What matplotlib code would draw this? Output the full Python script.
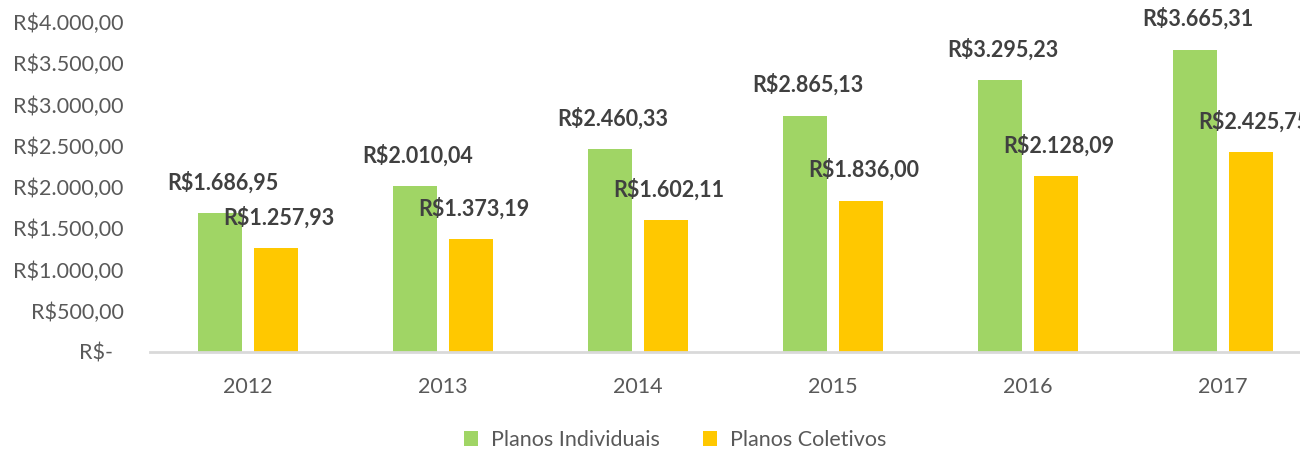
import matplotlib.pyplot as plt
import matplotlib.transforms as mtransforms
import numpy as np

plt.rcParams['font.family'] = ['Lato', 'DejaVu Sans']

anos = ['2012', '2013', '2014', '2015', '2016', '2017']
individuais = [1686.95, 2010.04, 2460.33, 2865.13, 3295.23, 3665.31]
coletivos = [1257.93, 1373.19, 1602.11, 1836.00, 2128.09, 2425.75]
yticks = [0, 500, 1000, 1500, 2000, 2500, 3000, 3500, 4000]


def brl(v):
    s = f'{v:,.2f}'
    s = s.replace(',', 'X').replace('.', ',').replace('X', '.')
    return 'R$' + s


fig = plt.figure(figsize=(13, 4.55), dpi=100)
ax = fig.add_axes([150 / 1300, 103 / 455, 1170 / 1300, 330 / 455])

x = np.arange(len(anos))
w = 0.225
b1 = ax.bar(x - 0.14, individuais, w, color='#A0D565', label='Planos Individuais')
b2 = ax.bar(x + 0.145, coletivos, w, color='#FFC800', label='Planos Coletivos')

for bars, vals in ((b1, individuais), (b2, coletivos)):
    for r, v in zip(bars, vals):
        ax.annotate(brl(v), (r.get_x() + r.get_width() / 2, v),
                    xytext=(2, 14), textcoords='offset points',
                    ha='center', va='bottom', fontsize=15.5, fontweight='bold',
                    color='#404040', annotation_clip=False)

ax.set_xlim(-0.5, len(anos) - 0.5)
ax.set_ylim(0, 4000)
ax.set_yticks(yticks)
ax.set_yticklabels([brl(t) if t else 'R$-' for t in yticks])
ax.set_xticks(x)
ax.set_xticklabels(anos)
ax.tick_params(axis='both', length=0, labelsize=15.5, colors='#595959')
ax.tick_params(axis='y', pad=19)
ax.tick_params(axis='x', pad=18)

# "R$-" sits a bit further left, like the accounting format
zero_lbl = ax.get_yticklabels()[0]
zero_lbl.set_transform(zero_lbl.get_transform() +
                       mtransforms.ScaledTranslation(-0.11, 0, fig.dpi_scale_trans))

for s in ['top', 'right', 'left']:
    ax.spines[s].set_visible(False)
ax.spines['bottom'].set_color('#D9D9D9')
ax.spines['bottom'].set_linewidth(2)

fig.legend(loc='center', bbox_to_anchor=(675 / 1300, 15 / 455), ncol=2,
           frameon=False, fontsize=15.5, labelcolor='#595959',
           handlelength=0.65, handleheight=0.65, columnspacing=2.0, handletextpad=0.6)

fig.savefig('out.png', dpi=100)
